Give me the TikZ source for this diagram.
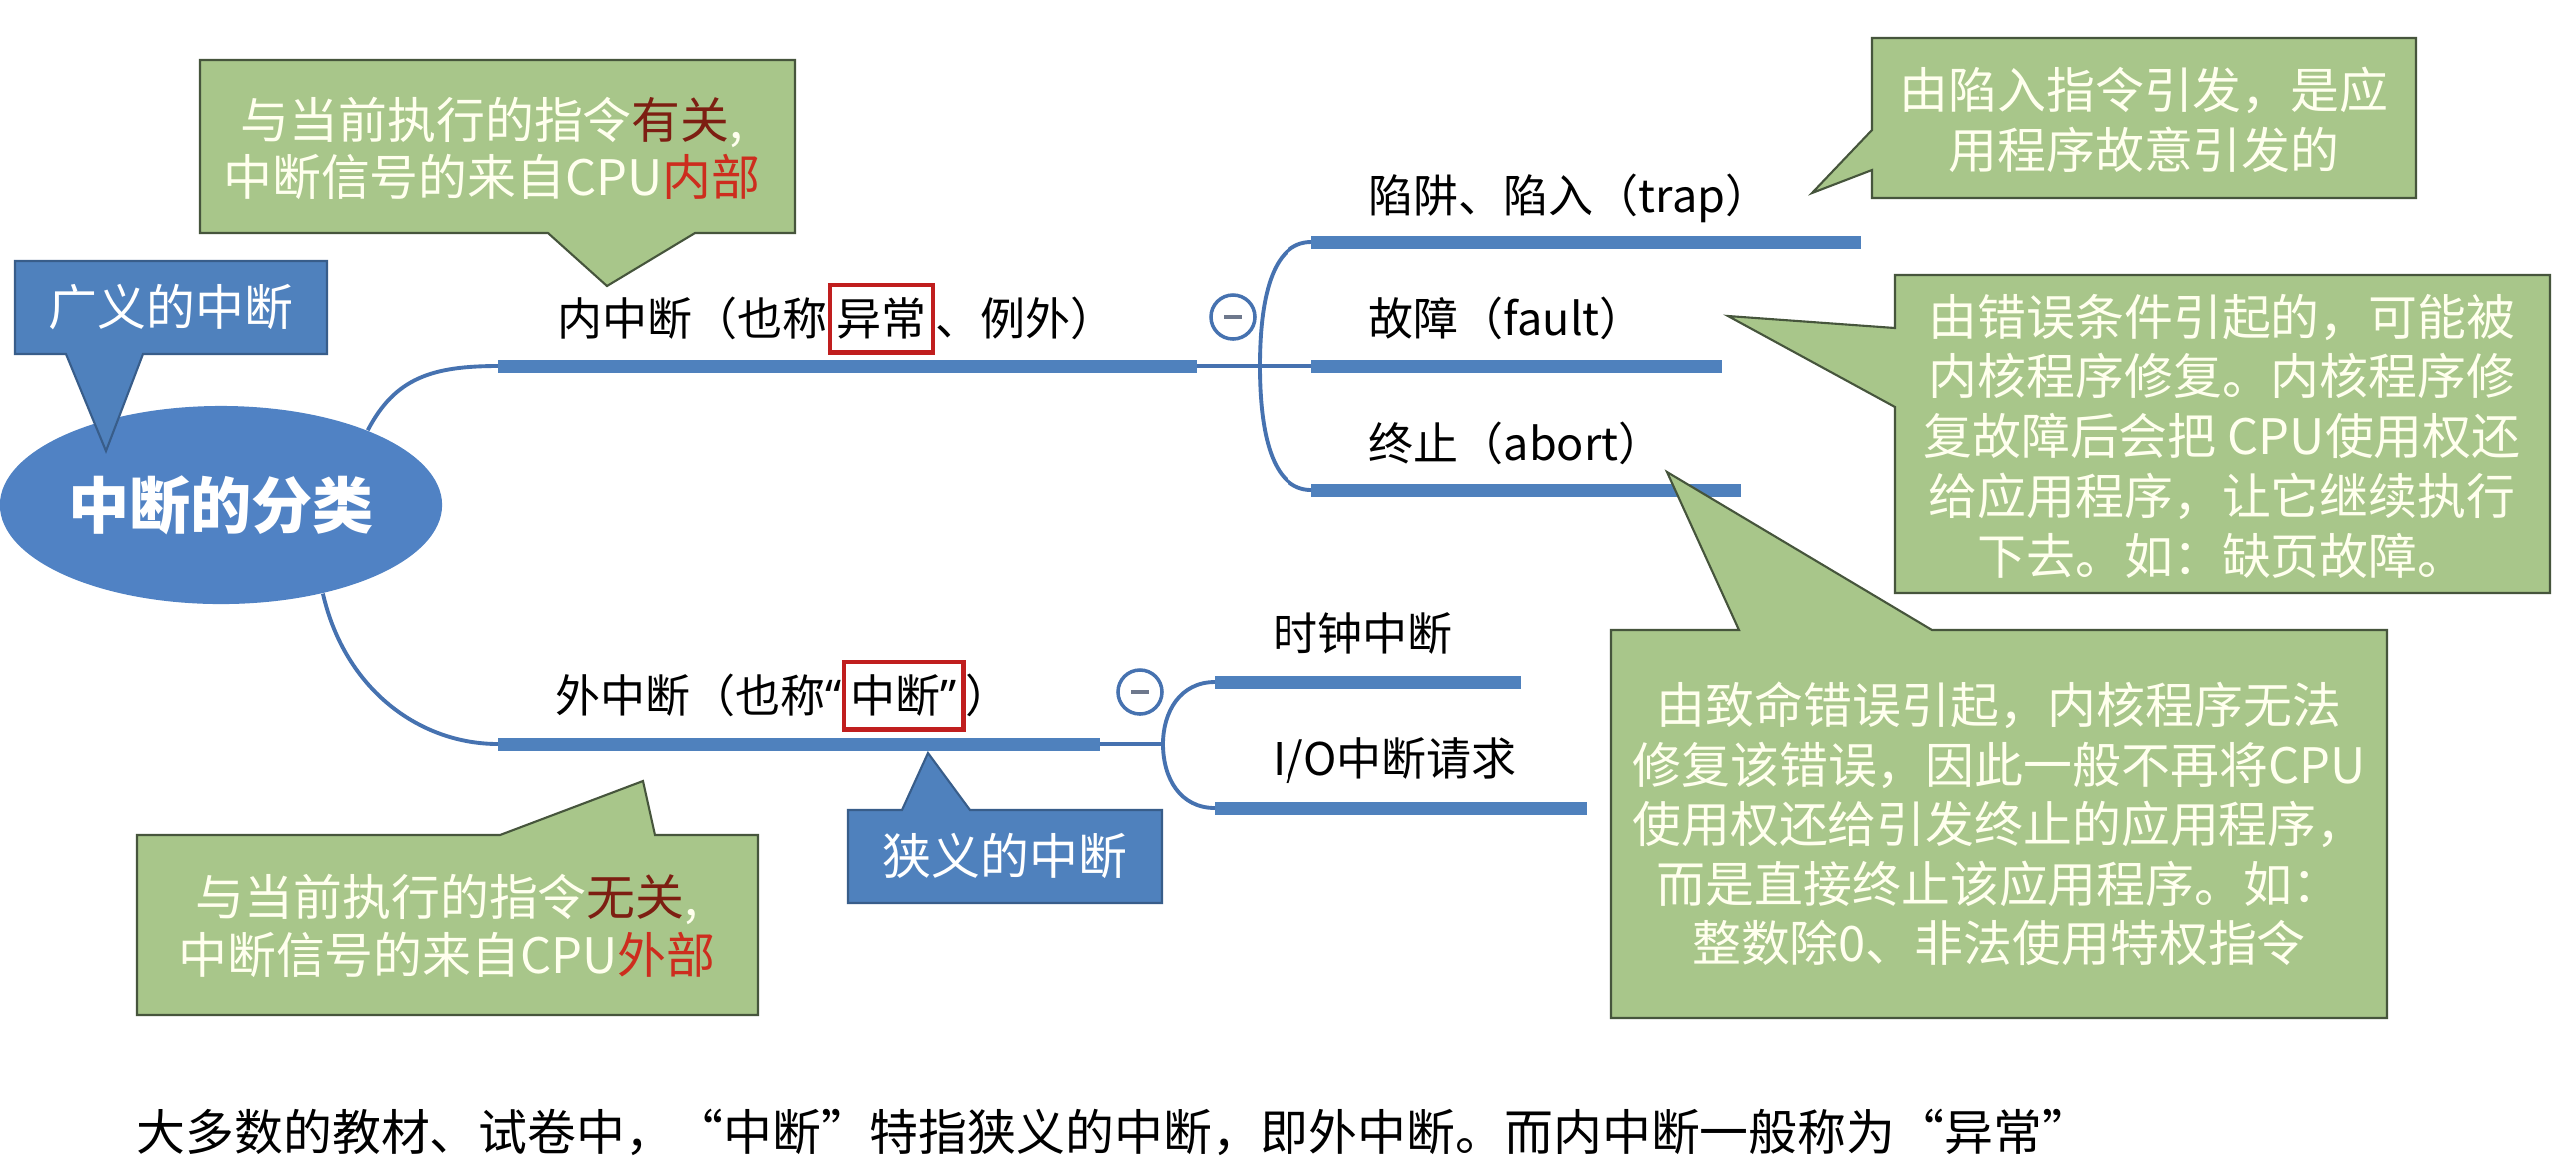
\documentclass[tikz,border=0pt]{standalone}
\usepackage{fontspec}
\setmainfont{Noto Sans CJK SC}
\newfontfamily\latq{Noto Sans}
\usetikzlibrary{shapes.geometric}
\definecolor{mmblue}{RGB}{79,129,189}
\definecolor{lineblue}{RGB}{70,114,176}
\definecolor{ellblue}{RGB}{80,130,196}
\definecolor{cgreen}{RGB}{168,198,138}
\definecolor{cgreenedge}{RGB}{70,85,60}
\definecolor{cblueedge}{RGB}{56,93,138}
\definecolor{boxred}{RGB}{192,30,30}
\definecolor{darkred}{RGB}{125,30,18}
\definecolor{brightred}{RGB}{205,45,30}
\definecolor{cream}{RGB}{255,255,238}
\definecolor{minusgray}{RGB}{110,120,140}
\newcommand\redbox[1]{{\setlength\fboxsep{1.3pt}\setlength\fboxrule{1.2pt}\fcolorbox{boxred}{white}{\rule[-3pt]{0pt}{15.5pt}#1}}}
\begin{document}
\begin{tikzpicture}[x=0.01cm,y=-0.01cm,
  bar/.style={line width=3.7pt, draw=mmblue},
  thinline/.style={line width=1.1pt, draw=lineblue},
  lbl/.style={anchor=west, inner sep=0pt, font=\fontsize{12.8}{15}\selectfont, text=black, text height=11.3pt, text depth=1.5pt},
  greencallout/.style={fill=cgreen, draw=cgreenedge, line width=0.6pt},
  bluecallout/.style={fill=mmblue, draw=cblueedge, line width=0.6pt},
  ctext/.style={align=center, text=cream, font=\fontsize{13.9}{16.9}\selectfont, inner sep=0pt},
  minus/.style={circle, draw=lineblue, line width=1pt, fill=white, minimum size=0.44cm, inner sep=0pt}
]
\useasboundingbox (0,0) rectangle (2577,1156);
\fill[white] (0,0) rectangle (2577,1156);

% root
\node[ellipse, fill=ellblue, minimum width=4.42cm, minimum height=1.98cm, inner sep=0pt, text=white, font=\bfseries\fontsize{17.4}{20}\selectfont] (root) at (221,505) {中断的分类};

% broad-interrupt callout
\draw[bluecallout] (15,261) -- (327,261) -- (327,354) -- (143,354) -- (106,451) -- (66,354) -- (15,354) -- cycle;
\node[ctext, text=white] (gy) at (171,307) {广义的中断};

% top green callout
\draw[greencallout] (200,60) -- (795,60) -- (795,233) -- (695,233) -- (607,286) -- (548,233) -- (200,233) -- cycle;
\node[ctext, font=\fontsize{13.9}{16.2}\selectfont] (nt) at (492,148) {与当前执行的指令\textcolor{darkred}{有关},\\中断信号的来自CPU\textcolor{brightred}{内部}};

% inner interrupt branch
\node[lbl] (nzd) at (557,318) {内中断（也称\redbox{异常}、例外）};
\coordinate (nb0) at (498,366);
\coordinate (nb1) at (1197,366);
\draw[thinline] (root.27) .. controls (395,378) and (432,366) .. (nb0);
\draw[bar] (nb0) -- (nb1);
\node[minus] (m1) at (1233,317) {\textcolor{minusgray}{\rule{5pt}{1pt}}};
\coordinate (k1) at (1260,366);
\coordinate (t0) at (1312,242); \coordinate (t1) at (1862,242);
\coordinate (f0) at (1312,366); \coordinate (f1) at (1723,366);
\coordinate (a0) at (1312,490); \coordinate (a1) at (1742,490);
\draw[thinline] (nb1) -- (f0);
\draw[thinline] (t0) .. controls (1272,242) and (1260,300) .. (k1) .. controls (1260,432) and (1272,490) .. (a0);
\draw[bar] (t0) -- (t1);
\draw[bar] (f0) -- (f1);
\draw[bar] (a0) -- (a1);
\node[lbl] (trap) at (1369,195) {陷阱、陷入（trap）};
\node[lbl] (fault) at (1369,318) {故障（fault）};
\node[lbl] (abort) at (1369,443) {终止（abort）};

% outer interrupt branch
\node[lbl] (wzd) at (555,695) {外中断（也称{\latq “}\redbox{中断{\latq ”}}）};
\coordinate (wb0) at (498,744);
\coordinate (wb1) at (1100,744);
\draw[thinline] (root.-41) .. controls (345,690) and (420,744) .. (wb0);
\draw[bar] (wb0) -- (wb1);
\node[minus] (m2) at (1140,692) {\textcolor{minusgray}{\rule{5pt}{1pt}}};
\coordinate (k2) at (1163,744);
\coordinate (s0) at (1215,682); \coordinate (s1) at (1522,682);
\coordinate (io0) at (1215,808); \coordinate (io1) at (1588,808);
\draw[thinline] (wb1) -- (k2);
\draw[thinline] (s0) .. controls (1180,682) and (1163,712) .. (k2) .. controls (1163,778) and (1180,808) .. (io0);
\draw[bar] (s0) -- (s1);
\draw[bar] (io0) -- (io1);
\node[lbl] (clock) at (1273,633) {时钟中断};
\node[lbl] (io) at (1273,758) {I/O中断请求};

% trap callout
\draw[greencallout] (1873,38) -- (2417,38) -- (2417,198) -- (1873,198) -- (1873,170) -- (1813,193) -- (1873,130) -- cycle;
\node[ctext] (ttrap) at (2145,120) {由陷入指令引发，是应\\用程序故意引发的};

% fault callout
\draw[greencallout] (1896,275) -- (2551,275) -- (2551,593) -- (1896,593) -- (1896,407) -- (1729,316) -- (1896,328) -- cycle;
\node[ctext, font=\fontsize{13.9}{17}\selectfont] (tfault) at (2223,436) {由错误条件引起的，可能被\\内核程序修复。内核程序修\\复故障后会把 CPU使用权还\\给应用程序，让它继续执行\\下去。如：缺页故障。};

% abort callout
\draw[greencallout] (1612,630) -- (1740,630) -- (1668,472) -- (1933,630) -- (2388,630) -- (2388,1018) -- (1612,1018) -- cycle;
\node[ctext] (tabort) at (2000,824) {由致命错误引起，内核程序无法\\修复该错误，因此一般不再将CPU\\使用权还给引发终止的应用程序，\\而是直接终止该应用程序。如：\\整数除0、非法使用特权指令};

% narrow-interrupt callout
\draw[bluecallout] (848,810) -- (902,810) -- (928,753) -- (970,810) -- (1162,810) -- (1162,903) -- (848,903) -- cycle;
\node[ctext, text=white] (xy) at (1005,856) {狭义的中断};

% lower green callout
\draw[greencallout] (137,835) -- (500,835) -- (643,781) -- (655,835) -- (758,835) -- (758,1015) -- (137,1015) -- cycle;
\node[ctext, font=\fontsize{13.9}{16.5}\selectfont] (wt) at (447,926) {与当前执行的指令\textcolor{darkred}{无关},\\中断信号的来自CPU\textcolor{brightred}{外部}};

% bottom note
\node[anchor=west, inner sep=0pt, font=\fontsize{13.9}{16}\selectfont] (note) at (136,1132) {大多数的教材、试卷中，“中断”特指狭义的中断，即外中断。而内中断一般称为“异常”};
\end{tikzpicture}
\end{document}
